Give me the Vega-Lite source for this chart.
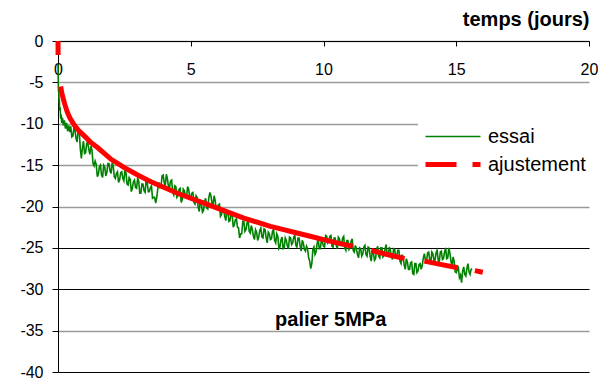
{
  "$schema": "https://vega.github.io/schema/vega-lite/v6.json",
  "width": 531,
  "height": 331,
  "autosize": {"type": "none"},
  "padding": {"left": 58, "top": 41, "right": 24, "bottom": 9},
  "background": "white",
  "config": {"view": {"stroke": null}, "font": "Liberation Sans"},
  "datasets": {
    "essai": [
      {"t":0,"v":-2.8},{"t":0.01,"v":-5.0},{"t":0.02,"v":-6.2},{"t":0.03,"v":-5.8},{"t":0.04,"v":-7.4},{"t":0.05,"v":-7.0},{"t":0.06,"v":-8.4},{"t":0.08,"v":-8.0},{"t":0.1,"v":-9.4},{"t":0.12,"v":-8.9},{"t":0.14,"v":-9.9},{"t":0.17,"v":-9.3},{"t":0.2,"v":-10.2},{"t":0.24,"v":-9.6},{"t":0.28,"v":-10.6},{"t":0.32,"v":-9.9},{"t":0.36,"v":-10.9},{"t":0.4,"v":-10.2},{"t":0.44,"v":-11.0},{"t":0.48,"v":-10.3},
      {"t":0.52,"v":-11.6},{"t":0.56,"v":-11.5},{"t":0.6,"v":-10.5},{"t":0.64,"v":-10.8},{"t":0.68,"v":-11.8},{"t":0.72,"v":-12.2},{"t":0.76,"v":-10.6},{"t":0.8,"v":-10.9},{"t":0.84,"v":-13.0},{"t":0.88,"v":-14.2},{"t":0.92,"v":-12.9},{"t":0.96,"v":-12.1},{"t":1.0,"v":-13.6},{"t":1.04,"v":-13.5},{"t":1.08,"v":-12.4},{"t":1.12,"v":-12.2},{"t":1.16,"v":-13.1},{"t":1.2,"v":-13.7},{"t":1.24,"v":-12.7},{"t":1.28,"v":-13.2},
      {"t":1.32,"v":-14.8},{"t":1.36,"v":-15.1},{"t":1.4,"v":-14.5},{"t":1.44,"v":-14.9},{"t":1.48,"v":-16.4},{"t":1.52,"v":-16.1},{"t":1.56,"v":-15.2},{"t":1.6,"v":-15.0},{"t":1.64,"v":-16.2},{"t":1.68,"v":-16.5},{"t":1.72,"v":-15.0},{"t":1.76,"v":-15.2},{"t":1.8,"v":-16.3},{"t":1.84,"v":-15.9},{"t":1.88,"v":-14.8},{"t":1.92,"v":-14.8},{"t":1.96,"v":-15.7},{"t":2.0,"v":-16.0},{"t":2.04,"v":-14.7},{"t":2.08,"v":-15.1},
      {"t":2.12,"v":-16.4},{"t":2.16,"v":-16.6},{"t":2.2,"v":-16.0},{"t":2.24,"v":-15.8},{"t":2.28,"v":-17.1},{"t":2.32,"v":-16.8},{"t":2.36,"v":-15.9},{"t":2.4,"v":-15.8},{"t":2.44,"v":-16.6},{"t":2.48,"v":-16.9},{"t":2.52,"v":-15.7},{"t":2.56,"v":-15.9},{"t":2.6,"v":-17.3},{"t":2.64,"v":-17.4},{"t":2.68,"v":-16.5},{"t":2.72,"v":-16.7},{"t":2.76,"v":-18.2},{"t":2.8,"v":-17.8},{"t":2.84,"v":-17.0},{"t":2.88,"v":-16.8},
      {"t":2.92,"v":-17.7},{"t":2.96,"v":-17.8},{"t":3.0,"v":-16.6},{"t":3.04,"v":-16.9},{"t":3.08,"v":-18.4},{"t":3.12,"v":-18.4},{"t":3.16,"v":-17.3},{"t":3.2,"v":-17.3},{"t":3.24,"v":-18.1},{"t":3.28,"v":-18.3},{"t":3.32,"v":-16.8},{"t":3.36,"v":-17.1},{"t":3.4,"v":-18.2},{"t":3.44,"v":-18.2},{"t":3.48,"v":-17.7},{"t":3.52,"v":-17.5},{"t":3.56,"v":-19.0},{"t":3.6,"v":-18.9},{"t":3.64,"v":-18.9},{"t":3.68,"v":-19.6},
      {"t":3.72,"v":-18.9},{"t":3.76,"v":-17.8},{"t":3.8,"v":-17.1},{"t":3.84,"v":-17.7},{"t":3.88,"v":-17.6},{"t":3.92,"v":-16.3},{"t":3.96,"v":-16.2},{"t":4.0,"v":-17.1},{"t":4.04,"v":-17.5},{"t":4.08,"v":-16.1},{"t":4.12,"v":-16.6},{"t":4.16,"v":-17.6},{"t":4.2,"v":-17.7},{"t":4.24,"v":-16.9},{"t":4.28,"v":-16.8},{"t":4.32,"v":-18.3},{"t":4.36,"v":-18.6},{"t":4.4,"v":-17.5},{"t":4.44,"v":-17.6},{"t":4.48,"v":-18.9},
      {"t":4.52,"v":-18.7},{"t":4.56,"v":-17.9},{"t":4.6,"v":-17.8},{"t":4.64,"v":-19.5},{"t":4.68,"v":-19.2},{"t":4.72,"v":-17.9},{"t":4.76,"v":-18.1},{"t":4.8,"v":-18.7},{"t":4.84,"v":-19.0},{"t":4.88,"v":-17.6},{"t":4.92,"v":-17.9},{"t":4.96,"v":-18.9},{"t":5.0,"v":-18.9},{"t":5.04,"v":-18.4},{"t":5.08,"v":-18.3},{"t":5.12,"v":-19.5},{"t":5.16,"v":-19.7},{"t":5.2,"v":-18.7},{"t":5.24,"v":-18.9},{"t":5.28,"v":-20.1},
      {"t":5.32,"v":-20.6},{"t":5.36,"v":-19.2},{"t":5.4,"v":-19.7},{"t":5.44,"v":-20.7},{"t":5.48,"v":-20.5},{"t":5.52,"v":-19.4},{"t":5.56,"v":-19.0},{"t":5.6,"v":-20.2},{"t":5.64,"v":-20.3},{"t":5.68,"v":-19.0},{"t":5.72,"v":-18.3},{"t":5.76,"v":-18.7},{"t":5.8,"v":-19.6},{"t":5.84,"v":-19.8},{"t":5.88,"v":-18.7},{"t":5.92,"v":-19.3},{"t":5.96,"v":-20.3},{"t":6.0,"v":-20.3},{"t":6.04,"v":-19.8},{"t":6.08,"v":-19.7},
      {"t":6.12,"v":-21.2},{"t":6.16,"v":-21.0},{"t":6.2,"v":-20.3},{"t":6.24,"v":-20.3},{"t":6.28,"v":-21.2},{"t":6.32,"v":-21.7},{"t":6.36,"v":-20.5},{"t":6.4,"v":-20.6},{"t":6.44,"v":-21.8},{"t":6.48,"v":-21.7},{"t":6.52,"v":-20.8},{"t":6.56,"v":-20.9},{"t":6.6,"v":-22.5},{"t":6.64,"v":-22.2},{"t":6.68,"v":-21.6},{"t":6.72,"v":-21.5},{"t":6.76,"v":-22.5},{"t":6.8,"v":-22.6},{"t":6.84,"v":-23.8},{"t":6.88,"v":-23.3},
      {"t":6.92,"v":-23.3},{"t":6.96,"v":-21.8},{"t":7.0,"v":-21.8},{"t":7.04,"v":-23.0},{"t":7.08,"v":-22.8},{"t":7.12,"v":-22.0},{"t":7.16,"v":-21.6},{"t":7.2,"v":-23.0},{"t":7.24,"v":-23.2},{"t":7.28,"v":-22.3},{"t":7.32,"v":-22.8},{"t":7.36,"v":-23.6},{"t":7.4,"v":-24.0},{"t":7.44,"v":-22.8},{"t":7.48,"v":-23.1},{"t":7.52,"v":-24.1},{"t":7.56,"v":-23.7},{"t":7.6,"v":-22.9},{"t":7.64,"v":-22.6},{"t":7.68,"v":-23.7},
      {"t":7.72,"v":-23.8},{"t":7.76,"v":-22.7},{"t":7.8,"v":-22.8},{"t":7.84,"v":-23.8},{"t":7.88,"v":-24.4},{"t":7.92,"v":-23.1},{"t":7.96,"v":-23.3},{"t":8.0,"v":-24.0},{"t":8.04,"v":-23.9},{"t":8.08,"v":-23.0},{"t":8.12,"v":-22.8},{"t":8.16,"v":-24.1},{"t":8.2,"v":-24.4},{"t":8.24,"v":-23.3},{"t":8.28,"v":-23.6},{"t":8.32,"v":-25.1},{"t":8.36,"v":-24.9},{"t":8.4,"v":-24.0},{"t":8.44,"v":-23.7},{"t":8.48,"v":-25.1},
      {"t":8.52,"v":-25.0},{"t":8.56,"v":-23.8},{"t":8.6,"v":-24.1},{"t":8.64,"v":-24.8},{"t":8.68,"v":-25.1},{"t":8.72,"v":-23.7},{"t":8.76,"v":-23.8},{"t":8.8,"v":-24.6},{"t":8.84,"v":-24.4},{"t":8.88,"v":-23.7},{"t":8.92,"v":-23.5},{"t":8.96,"v":-24.7},{"t":9.0,"v":-24.9},{"t":9.04,"v":-23.8},{"t":9.08,"v":-23.8},{"t":9.12,"v":-24.8},{"t":9.16,"v":-25.4},{"t":9.2,"v":-24.1},{"t":9.24,"v":-24.4},{"t":9.28,"v":-25.2},
      {"t":9.32,"v":-25.4},{"t":9.36,"v":-24.8},{"t":9.4,"v":-25.1},{"t":9.44,"v":-26.2},{"t":9.48,"v":-26.6},{"t":9.52,"v":-27.5},{"t":9.56,"v":-26.9},{"t":9.6,"v":-25.2},{"t":9.64,"v":-24.9},{"t":9.68,"v":-25.8},{"t":9.72,"v":-25.5},{"t":9.76,"v":-24.5},{"t":9.8,"v":-23.9},{"t":9.84,"v":-25.1},{"t":9.88,"v":-25.1},{"t":9.92,"v":-24.1},{"t":9.96,"v":-24.3},{"t":10.0,"v":-24.8},{"t":10.04,"v":-24.9},{"t":10.08,"v":-23.5},
      {"t":10.12,"v":-23.6},{"t":10.16,"v":-24.4},{"t":10.2,"v":-24.2},{"t":10.24,"v":-23.6},{"t":10.28,"v":-23.5},{"t":10.32,"v":-24.8},{"t":10.36,"v":-24.9},{"t":10.4,"v":-23.8},{"t":10.44,"v":-23.8},{"t":10.48,"v":-24.7},{"t":10.52,"v":-25.1},{"t":10.56,"v":-23.7},{"t":10.6,"v":-23.9},{"t":10.64,"v":-24.7},{"t":10.68,"v":-24.7},{"t":10.72,"v":-23.8},{"t":10.76,"v":-23.6},{"t":10.8,"v":-25.0},{"t":10.84,"v":-25.3},{"t":10.88,"v":-24.1},
      {"t":10.92,"v":-24.1},{"t":10.96,"v":-25.2},{"t":11.0,"v":-25.0},{"t":11.04,"v":-24.2},{"t":11.08,"v":-23.9},{"t":11.12,"v":-25.3},{"t":11.16,"v":-25.5},{"t":11.2,"v":-24.7},{"t":11.24,"v":-25.1},{"t":11.28,"v":-25.8},{"t":11.32,"v":-26.2},{"t":11.36,"v":-25.0},{"t":11.4,"v":-25.1},{"t":11.44,"v":-26.0},{"t":11.48,"v":-25.7},{"t":11.52,"v":-24.9},{"t":11.56,"v":-24.7},{"t":11.6,"v":-25.8},{"t":11.64,"v":-26.0},{"t":11.68,"v":-24.9},
      {"t":11.72,"v":-25.0},{"t":11.76,"v":-26.1},{"t":11.8,"v":-26.6},{"t":11.84,"v":-25.2},{"t":11.88,"v":-25.6},{"t":11.92,"v":-26.5},{"t":11.96,"v":-26.3},{"t":12.0,"v":-25.2},{"t":12.04,"v":-24.8},{"t":12.08,"v":-26.0},{"t":12.12,"v":-26.2},{"t":12.16,"v":-25.0},{"t":12.2,"v":-25.0},{"t":12.24,"v":-26.1},{"t":12.28,"v":-25.9},{"t":12.32,"v":-25.1},{"t":12.36,"v":-24.6},{"t":12.4,"v":-25.9},{"t":12.44,"v":-25.9},{"t":12.48,"v":-24.9},
      {"t":12.52,"v":-25.3},{"t":12.56,"v":-26.1},{"t":12.6,"v":-26.4},{"t":12.64,"v":-25.1},{"t":12.68,"v":-25.2},{"t":12.72,"v":-26.1},{"t":12.76,"v":-25.9},{"t":12.8,"v":-25.3},{"t":12.84,"v":-25.3},{"t":12.88,"v":-26.6},{"t":12.92,"v":-26.9},{"t":12.96,"v":-25.9},{"t":13.0,"v":-26.0},{"t":13.04,"v":-27.1},{"t":13.08,"v":-27.6},{"t":13.12,"v":-26.3},{"t":13.16,"v":-26.7},{"t":13.2,"v":-27.6},{"t":13.24,"v":-27.6},{"t":13.28,"v":-26.8},
      {"t":13.32,"v":-26.7},{"t":13.36,"v":-28.1},{"t":13.4,"v":-28.2},{"t":13.44,"v":-26.9},{"t":13.48,"v":-26.9},{"t":13.52,"v":-28.0},{"t":13.56,"v":-27.8},{"t":13.6,"v":-27.0},{"t":13.64,"v":-26.9},{"t":13.68,"v":-27.6},{"t":13.72,"v":-27.1},{"t":13.76,"v":-26.2},{"t":13.8,"v":-25.7},{"t":13.84,"v":-26.5},{"t":13.88,"v":-26.7},{"t":13.92,"v":-25.6},{"t":13.96,"v":-25.5},{"t":14.0,"v":-26.4},{"t":14.04,"v":-26.9},{"t":14.08,"v":-25.5},
      {"t":14.12,"v":-25.7},{"t":14.16,"v":-26.5},{"t":14.2,"v":-26.5},{"t":14.24,"v":-25.6},{"t":14.28,"v":-25.3},{"t":14.32,"v":-26.5},{"t":14.36,"v":-26.7},{"t":14.4,"v":-25.5},{"t":14.44,"v":-25.4},{"t":14.48,"v":-26.4},{"t":14.52,"v":-26.3},{"t":14.56,"v":-25.5},{"t":14.6,"v":-25.0},{"t":14.64,"v":-26.3},{"t":14.68,"v":-26.2},{"t":14.72,"v":-25.0},{"t":14.76,"v":-25.6},{"t":14.8,"v":-26.6},{"t":14.84,"v":-27.2},{"t":14.88,"v":-26.1},
      {"t":14.92,"v":-26.6},{"t":14.96,"v":-27.9},{"t":15.0,"v":-28.0},{"t":15.04,"v":-27.6},{"t":15.08,"v":-27.4},{"t":15.12,"v":-28.6},{"t":15.16,"v":-28.3},{"t":15.2,"v":-29.2},{"t":15.24,"v":-27.8},{"t":15.28,"v":-27.3},{"t":15.32,"v":-28.2},{"t":15.36,"v":-28.4},{"t":15.4,"v":-27.5},{"t":15.44,"v":-26.9},{"t":15.48,"v":-27.9},{"t":15.52,"v":-28.2},{"t":15.56,"v":-27.6},{"t":15.6,"v":-27.5}
    ],
    "ajustement": [
      {"seg":"a","t":0,"v":0},{"seg":"a","t":0.004,"v":-1.7},
      {"seg":"b","t":0.1,"v":-5.5},{"seg":"b","t":0.15,"v":-6.4},{"seg":"b","t":0.25,"v":-7.6},{"seg":"b","t":0.35,"v":-8.6},{"seg":"b","t":0.45,"v":-9.3},{"seg":"b","t":0.6,"v":-10.1},{"seg":"b","t":0.8,"v":-10.9},{"seg":"b","t":1.0,"v":-11.5},{"seg":"b","t":1.25,"v":-12.3},{"seg":"b","t":1.5,"v":-12.9},{"seg":"b","t":2.0,"v":-14.3},{"seg":"b","t":2.5,"v":-15.3},{"seg":"b","t":3.0,"v":-16.2},{"seg":"b","t":3.5,"v":-17.0},{"seg":"b","t":4.0,"v":-17.7},{"seg":"b","t":4.5,"v":-18.4},{"seg":"b","t":5.0,"v":-19.0},{"seg":"b","t":5.5,"v":-19.6},{"seg":"b","t":6.0,"v":-20.2},{"seg":"b","t":6.5,"v":-20.8},{"seg":"b","t":7.0,"v":-21.4},{"seg":"b","t":7.5,"v":-21.9},{"seg":"b","t":8.0,"v":-22.4},{"seg":"b","t":8.5,"v":-22.8},{"seg":"b","t":9.0,"v":-23.2},{"seg":"b","t":9.5,"v":-23.6},{"seg":"b","t":10.0,"v":-24.0},{"seg":"b","t":10.5,"v":-24.4},{"seg":"b","t":11.1,"v":-24.8},
      {"seg":"c","t":11.8,"v":-25.3},{"seg":"c","t":12.4,"v":-25.8},{"seg":"c","t":13.05,"v":-26.3},
      {"seg":"d","t":13.8,"v":-26.6},{"seg":"d","t":14.4,"v":-27.0},{"seg":"d","t":15.06,"v":-27.4},
      {"seg":"e","t":15.7,"v":-27.75},{"seg":"e","t":16.0,"v":-27.95}
    ],
    "annot": [{"t":10.27,"v":-34.45,"label":"palier 5MPa"}]
  },
  "layer": [
    {
      "data": {"name": "essai"},
      "mark": {"type": "line", "strokeWidth": 1.6},
      "encoding": {
        "x": {
          "field": "t", "type": "quantitative",
          "scale": {"domain": [0, 20], "nice": false, "zero": false},
          "axis": {
            "orient": "top", "values": [0, 5, 10, 15, 20], "grid": false,
            "domainColor": "black", "domainWidth": 1, "tickColor": "black", "tickSize": -5,
            "labelPadding": -28.5, "labelBaseline": "alphabetic", "labelFontSize": 16,
            "labelFont": "Liberation Sans", "labelColor": "black", "labelFlush": false, "labelOverlap": false,
            "title": "temps (jours)", "titleFontSize": 20, "titleFontWeight": "bold",
            "titleFont": "Liberation Sans", "titleColor": "black", "titleAnchor": "end",
            "titleAlign": "right", "titleX": 531, "titleY": -16, "titleBaseline": "alphabetic"
          }
        },
        "y": {
          "field": "v", "type": "quantitative",
          "scale": {"domain": [-40, 0], "nice": false, "zero": false},
          "axis": {
            "orient": "left", "values": [-40, -35, -30, -25, -20, -15, -10, -5, 0], "grid": true,
            "gridColor": {"condition": {"test": "datum.value === -25 || datum.value === -30 || datum.value === -40", "value": "black"}, "value": "#9a9a9a"},
            "gridWidth": {"condition": {"test": "datum.value === -25 || datum.value === -30 || datum.value === -40", "value": 1}, "value": 1.6},
            "domainColor": "black", "domainWidth": 1, "tickColor": "black", "tickSize": 6,
            "labelPadding": 9, "labelFontSize": 16, "labelFont": "Liberation Sans", "labelColor": "black",
            "labelExpr": "'' + datum.value", "labelBaseline": "middle", "labelOverlap": false, "title": null
          }
        },
        "color": {
          "datum": "essai", "type": "nominal",
          "scale": {"domain": ["essai", "ajustement"], "range": ["#008000", "#ff0000"]},
          "legend": {
            "title": null, "orient": "none", "legendX": 360, "legendY": 78.5,
            "fillColor": "white", "padding": 7, "symbolType": "stroke", "symbolSize": 3025,
            "symbolOffset": 18,
            "rowPadding": 8, "labelFontSize": 20, "labelFont": "Liberation Sans", "labelColor": "black",
            "labelOffset": 25, "labelBaseline": "middle",
            "encode": {
              "symbols": {
                "update": {
                  "strokeWidth": {"signal": "datum.value === 'ajustement' ? 5 : 1.3"},
                  "strokeDash": {"signal": "datum.value === 'ajustement' ? [31, 16] : [1, 0]"},
                  "strokeCap": {"value": "butt"}
                }
              }
            }
          }
        }
      }
    },
    {
      "data": {"name": "ajustement"},
      "mark": {"type": "line", "strokeWidth": 5, "strokeCap": "butt"},
      "encoding": {
        "x": {"field": "t", "type": "quantitative"},
        "y": {"field": "v", "type": "quantitative"},
        "detail": {"field": "seg"},
        "color": {"datum": "ajustement", "type": "nominal"}
      }
    },
    {
      "data": {"name": "annot"},
      "mark": {"type": "text", "font": "Liberation Sans", "fontSize": 20, "fontWeight": "bold", "align": "center", "baseline": "alphabetic", "color": "black"},
      "encoding": {
        "x": {"field": "t", "type": "quantitative"},
        "y": {"field": "v", "type": "quantitative"},
        "text": {"field": "label"}
      }
    }
  ]
}
